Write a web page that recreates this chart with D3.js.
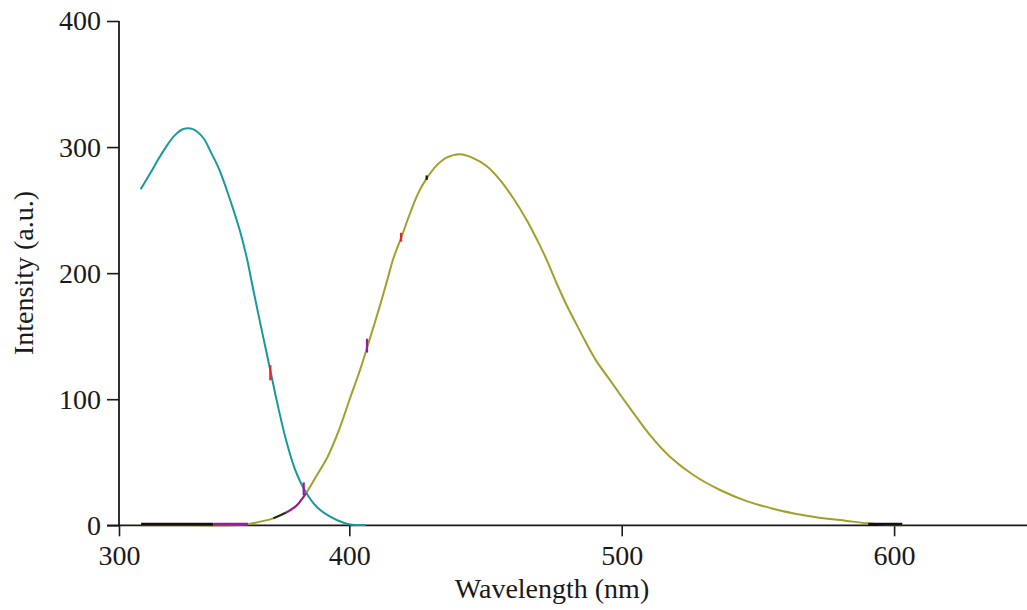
<!DOCTYPE html>
<html>
<head>
<meta charset="utf-8">
<script src="https://cdn.jsdelivr.net/npm/d3@7"></script>
<style>
  html, body { margin: 0; padding: 0; background: #fff; }
  svg { display: block; }
  text { font-family: "Liberation Serif", "Times New Roman", serif; fill: #1a1a1a; }
</style>
</head>
<body>
<script>
// Excitation spectrum (teal)
const exWavelength = [309.4, 313.5, 316, 320, 324.3, 328, 332.3, 336.7, 339.6, 343.6, 349, 352.6, 355.5, 358.4, 361.6, 365.7, 368.6, 372.2, 376.5, 380.9, 385.9, 391.7, 397.5, 401, 406];
const exIntensity  = [266.5, 279, 287, 299, 309.5, 314.3, 314, 307, 297, 282, 254, 233, 212, 186, 158, 123, 98, 70, 44, 27, 14.5, 6.8, 2, 0.5, 0.3];

// Emission spectrum (olive)
const emWavelength = [309.6, 330, 350, 356, 361.3, 367, 372.5, 377, 381.2, 385.5, 390.6, 395.7, 400.3, 403.9, 407, 411.5, 414, 416.2, 419.2, 422.3, 425.3, 428.4, 432, 435.7, 440.6, 445.5, 450.4, 455.3, 460.2, 465.1, 468.8, 472.5, 476.1, 479.8, 483.5, 486.5, 490.8, 495.7, 500, 503, 510.4, 517.7, 526.3, 536.1, 545.9, 558.1, 570.3, 582.6, 590, 596, 603];
const emIntensity  = [0, 0, 0, 0.8, 2.9, 5.5, 10, 15.5, 25.4, 38.5, 54.4, 76.5, 101, 123, 144.3, 176, 195, 211.8, 229, 247.5, 263.5, 275.2, 285.3, 291.6, 294.3, 291.3, 285, 274, 259.4, 242.2, 227, 210.4, 192, 174.5, 159, 146.5, 130, 115.2, 102, 93, 71.5, 54.4, 39.9, 28, 19.2, 11.8, 6.8, 3.5, 1.6, 0.5, 0];

// Tick labels
const xTicks = [300, 400, 500, 600];
const yTicks = [0, 100, 200, 300, 400];

// Baseline segments drawn in other trace colours
const baseSpans = [
  { x0: 309.6, x1: 341, color: "#111111" },
  { x0: 341, x1: 356, color: "#9a1a9a" },
  { x0: 590.5, x1: 603, color: "#111111" }
];
// Short coloured cursor marks on the curves: [wavelength, low, high, colour]
const cursorMarks = [
  [365.7, 115, 127, "#e3262b"],
  [380.2, 24, 34, "#9a1a9a"],
  [406.5, 137, 148, "#9a1a9a"],
  [419.0, 225, 232, "#e3262b"],
  [428.4, 274, 277.5, "#111111"]
];
// Stretch of the emission trace overdrawn in other colours
const emSpans = [
  { x0: 367, x1: 372.5, color: "#222222" },
  { x0: 372.5, x1: 381.2, color: "#9a1a9a" }
];

const W = 1027, H = 610;
const svg = d3.select("body").append("svg").attr("width", W).attr("height", H);

const x = d3.scaleLinear().domain([300, 400, 650]).range([119, 349.3, 1030.3]);
const y = d3.scaleLinear().domain([0, 400]).range([525.3, 21]);

const exData = exWavelength.map((w, i) => [w, exIntensity[i]]);
const emData = emWavelength.map((w, i) => [w, emIntensity[i]]);

const line = d3.line().x(d => x(d[0])).y(d => y(d[1])).curve(d3.curveCatmullRom.alpha(0.5));

// Axes
const axisColor = "#1a1a1a";
const yAxis = svg.append("g").attr("transform", `translate(${x(300)},0)`)
  .call(d3.axisLeft(y).tickValues(yTicks).tickSize(12).tickPadding(6).tickFormat(d3.format("d")));
const xAxis = svg.append("g").attr("transform", `translate(0,${y(0)})`)
  .call(d3.axisBottom(x).tickValues(xTicks).tickSize(11).tickPadding(9).tickFormat(d3.format("d")));
[yAxis, xAxis].forEach(g => {
  g.select(".domain").remove();
  g.selectAll(".tick line").attr("stroke", axisColor).attr("stroke-width", 1.6);
  g.selectAll(".tick text").style("font-size", "28px").attr("fill", axisColor);
});
svg.append("line").attr("x1", x(300)).attr("x2", x(300)).attr("y1", y(400)).attr("y2", y(0))
  .attr("stroke", axisColor).attr("stroke-width", 1.8);
svg.append("line").attr("x1", x(300) - 12).attr("x2", W).attr("y1", y(0)).attr("y2", y(0))
  .attr("stroke", axisColor).attr("stroke-width", 1.8);

// Traces
svg.append("path").datum(emData).attr("d", line)
  .attr("fill", "none").attr("stroke", "#a39f2a").attr("stroke-width", 2);
svg.append("path").datum(exData).attr("d", line)
  .attr("fill", "none").attr("stroke", "#19999b").attr("stroke-width", 2);

emSpans.forEach(s => {
  svg.append("path").datum(emData.filter(d => d[0] >= s.x0 && d[0] <= s.x1)).attr("d", line)
    .attr("fill", "none").attr("stroke", s.color).attr("stroke-width", 2);
});
baseSpans.forEach(s => {
  svg.append("line").attr("x1", x(s.x0)).attr("x2", x(s.x1)).attr("y1", y(0) - 1).attr("y2", y(0) - 1)
    .attr("stroke", s.color).attr("stroke-width", 3);
});
cursorMarks.forEach(([w, lo, hi, c]) => {
  svg.append("line").attr("x1", x(w)).attr("x2", x(w)).attr("y1", y(lo)).attr("y2", y(hi))
    .attr("stroke", c).attr("stroke-width", 2.2);
});

// Axis titles
svg.append("text").attr("x", 552).attr("y", 598).attr("text-anchor", "middle")
  .style("font-size", "28px").text("Wavelength (nm)");
svg.append("text").attr("transform", "translate(33,273) rotate(-90)").attr("text-anchor", "middle")
  .style("font-size", "28px").text("Intensity (a.u.)");
</script>
</body>
</html>
